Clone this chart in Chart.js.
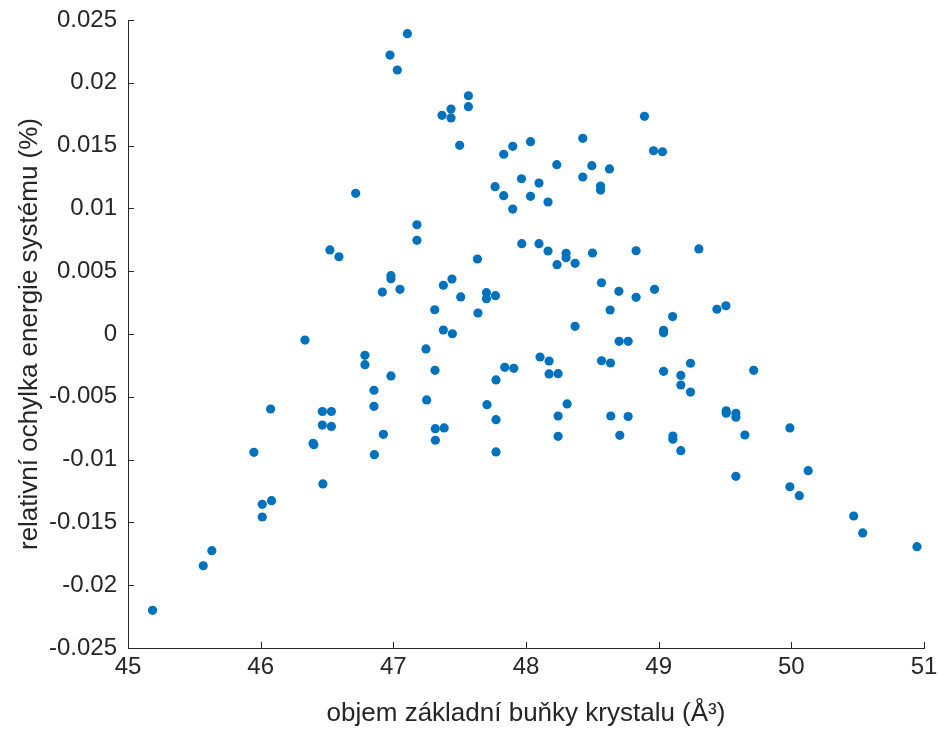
<!DOCTYPE html>
<html>
<head>
<meta charset="utf-8">
<script src="https://cdn.jsdelivr.net/npm/chart.js@4/dist/chart.umd.min.js"></script>
<style>
  html, body { margin: 0; padding: 0; background: #ffffff; }
  #wrap { width: 938px; height: 729px; }
</style>
</head>
<body>
<div id="wrap"><canvas id="c" width="938" height="729"></canvas></div>
<script>
// Unit-cell volume (Å³) of each configuration
const volume = [
  46.975, 47.030, 47.106, 46.716, 47.566, 47.566, 47.367, 47.435, 47.435, 47.500,
  47.832, 47.900, 48.034, 48.232, 48.428, 48.496, 48.629, 48.428, 48.562, 48.562,
  47.767, 47.832, 47.966, 48.098, 48.034, 47.900, 48.166, 48.893, 48.961, 49.029,
  46.522, 46.590, 46.982, 46.982, 46.917, 47.050, 46.334, 46.786, 46.786, 46.982,
  46.854, 46.854, 46.075, 46.465, 46.533, 46.465, 46.533, 46.925, 47.178, 47.178,
  47.968, 48.098, 48.166, 48.302, 48.302, 48.234, 48.370, 48.501, 48.830, 47.634,
  47.377, 47.442, 47.508, 47.702, 47.770, 47.702, 47.312, 47.638, 48.569, 48.700,
  48.830, 48.969, 48.634, 48.370, 49.105, 49.037, 49.037, 47.377, 47.445, 47.246,
  48.106, 48.174, 48.569, 48.637, 48.702, 48.770, 47.840, 47.908, 48.174, 48.242,
  47.314, 47.774, 49.037, 49.167, 49.167, 47.251, 47.706, 48.310, 47.774, 48.242,
  48.639, 48.770, 47.316, 47.383, 49.303, 49.439, 49.507, 49.240, 49.240, 49.716,
  49.509, 49.509, 49.582, 49.582, 49.989, 46.401, 46.395, 46.857, 45.949, 46.469,
  46.012, 46.082, 46.012, 45.632, 45.567, 45.185, 47.317, 47.774, 48.242, 48.707,
  49.107, 49.107, 49.167, 49.650, 49.582, 50.127, 49.989, 50.060, 50.470, 50.538,
  50.947
];

// Relative deviation of the system energy (%) for the same configurations
const deviation = [
   0.02221,  0.02102,  0.02391,  0.01120,  0.01897,  0.01810,  0.01741,  0.01791,  0.01720,  0.01502,
   0.01431,  0.01494,  0.01531,  0.01348,  0.01558,  0.01340,  0.01314,  0.01250,  0.01178,  0.01146,
   0.01173,  0.01101,  0.01236,  0.01202,  0.01096,  0.00995,  0.01051,  0.01733,  0.01459,  0.01451,
   0.00669,  0.00615,  0.00464,  0.00440,  0.00334,  0.00356, -0.00048, -0.00170, -0.00244, -0.00334,
  -0.00448, -0.00576, -0.00597, -0.00617, -0.00617, -0.00725, -0.00736, -0.00799,  0.00870,  0.00746,
   0.00719,  0.00719,  0.00661,  0.00643,  0.00607,  0.00552,  0.00563,  0.00645,  0.00663,  0.00597,
   0.00388,  0.00438,  0.00295,  0.00329,  0.00305,  0.00281,  0.00193,  0.00167,  0.00408,  0.00340,
   0.00292,  0.00356,  0.00191,  0.00061,  0.00139,  0.00029,  0.00010,  0.00032,  0.00002, -0.00119,
  -0.00183, -0.00215, -0.00213, -0.00231, -0.00058, -0.00058, -0.00265, -0.00273, -0.00318, -0.00316,
  -0.00289, -0.00366, -0.00297, -0.00330, -0.00406, -0.00525, -0.00563, -0.00557, -0.00682, -0.00653,
  -0.00653, -0.00657, -0.00754, -0.00748,  0.00677,  0.00197,  0.00225, -0.00233, -0.00462, -0.00289,
  -0.00611, -0.00631, -0.00631, -0.00663, -0.00748, -0.00881, -0.00870, -0.00961, -0.00942, -0.01194,
  -0.01356, -0.01327, -0.01457, -0.01725, -0.01845, -0.02200, -0.00846, -0.00939, -0.00815, -0.00807,
  -0.00812, -0.00838, -0.00929, -0.00804, -0.01133, -0.01088, -0.01216, -0.01287, -0.01449, -0.01584,
  -0.01693
];

// Axis ticks
const xTicks = [45, 46, 47, 48, 49, 50, 51];
const yTicks = [-0.025, -0.02, -0.015, -0.01, -0.005, 0, 0.005, 0.01, 0.015, 0.02, 0.025];
const yTickLabels = ['-0.025', '-0.02', '-0.015', '-0.01', '-0.005', '0', '0.005', '0.01', '0.015', '0.02', '0.025'];

const axisColor = '#262626';
const fontFamily = '"Liberation Sans", Arial, Helvetica, sans-serif';

// Short tick marks pointing into the plot area
const inwardTicks = {
  id: 'inwardTicks',
  afterDatasetsDraw(chart) {
    const ctx = chart.ctx;
    const area = chart.chartArea;
    const len = 6;
    ctx.save();
    ctx.strokeStyle = axisColor;
    ctx.lineWidth = 1;
    ctx.beginPath();
    const xs = chart.scales.x;
    xs.ticks.forEach((t, i) => {
      const px = Math.round(xs.getPixelForTick(i)) + 0.5;
      ctx.moveTo(px, area.bottom);
      ctx.lineTo(px, area.bottom - len);
    });
    const ys = chart.scales.y;
    ys.ticks.forEach((t, i) => {
      const py = Math.round(ys.getPixelForTick(i)) + 0.5;
      ctx.moveTo(area.left, py);
      ctx.lineTo(area.left + len, py);
    });
    ctx.stroke();
    ctx.restore();
  }
};

const points = volume.map((v, i) => ({ x: v, y: deviation[i] }));

new Chart(document.getElementById('c'), {
  type: 'scatter',
  data: {
    datasets: [{
      data: points,
      backgroundColor: '#0072BD',
      borderWidth: 0,
      pointRadius: 4.6,
      pointHoverRadius: 4.6
    }]
  },
  options: {
    responsive: false,
    animation: false,
    devicePixelRatio: 1,
    layout: { padding: { left: 0, right: 14, top: 20, bottom: 0 } },
    plugins: {
      legend: { display: false },
      tooltip: { enabled: false }
    },
    scales: {
      x: {
        type: 'linear',
        min: 45,
        max: 51,
        afterBuildTicks: s => { s.ticks = xTicks.map(v => ({ value: v })); },
        afterFit: s => { s.height = 81; s.paddingLeft = 0; s.paddingRight = 0; },
        grid: { display: false, drawTicks: false },
        border: { display: true, color: axisColor, width: 1 },
        ticks: {
          color: axisColor,
          padding: 5,
          maxRotation: 0,
          autoSkip: false,
          font: { family: fontFamily, size: 24 },
          callback: v => String(v)
        },
        title: {
          display: true,
          text: 'objem základní buňky krystalu (Å³)',
          color: axisColor,
          font: { family: fontFamily, size: 26 },
          padding: { top: 0, bottom: 0 }
        }
      },
      y: {
        type: 'linear',
        min: -0.025,
        max: 0.025,
        afterBuildTicks: s => { s.ticks = yTicks.map(v => ({ value: v })); },
        afterFit: s => { s.width = 128; s.paddingTop = 0; s.paddingBottom = 0; },
        grid: { display: false, drawTicks: false },
        border: { display: true, color: axisColor, width: 1 },
        ticks: {
          color: axisColor,
          padding: 11,
          autoSkip: false,
          font: { family: fontFamily, size: 24 },
          callback: (v, i) => yTickLabels[i]
        },
        title: {
          display: true,
          text: 'relativní ochylka energie systému (%)',
          color: axisColor,
          font: { family: fontFamily, size: 26 },
          padding: { top: 14, bottom: 0 }
        }
      }
    }
  },
  plugins: [inwardTicks]
});
</script>
</body>
</html>
